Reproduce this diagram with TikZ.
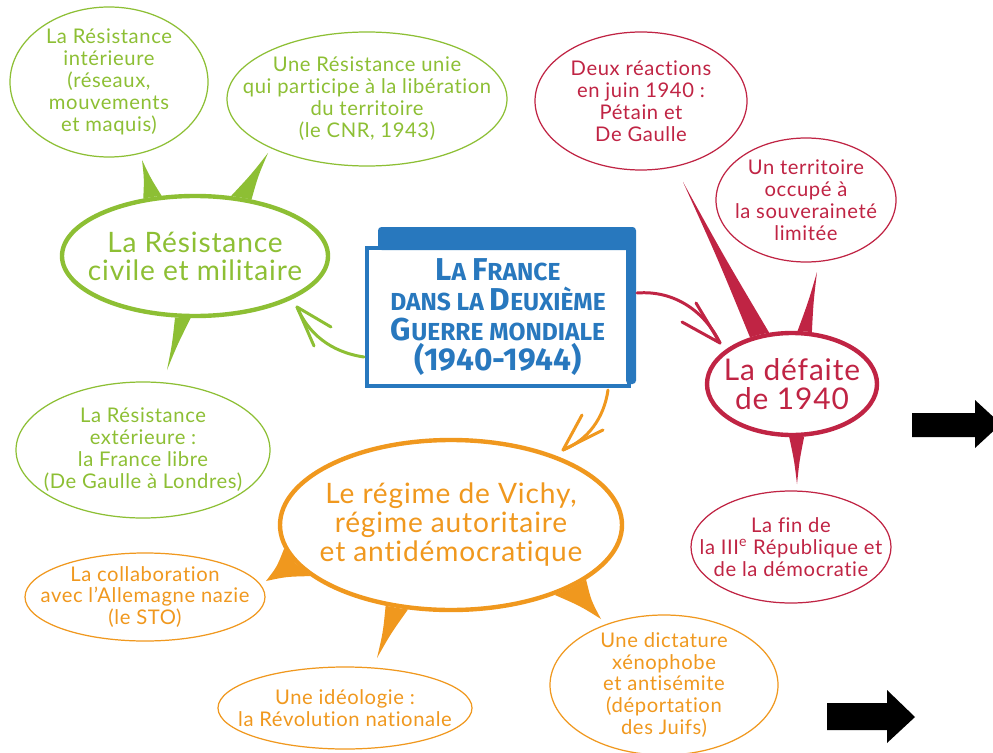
\documentclass[tikz,border=0pt]{standalone}
\usepackage{fontspec}
\setmainfont{Lato}[LetterSpace=3,Ligatures=NoCommon]
\newfontfamily\titlefont{Fira Sans}
\usetikzlibrary{shapes.geometric,calc}
\definecolor{cgreen}{RGB}{141,191,52}
\definecolor{cred}{RGB}{192,36,68}
\definecolor{corange}{RGB}{240,152,30}
\definecolor{cblue}{RGB}{40,120,190}
\newcommand{\tbig}[1]{{\fontsize{18}{17}\selectfont #1}}
% spike: colour, node, angle1, angle2, tip
\newcommand{\spike}[5]{%
  \path (#2.#3) coordinate (sA) (#2.#4) coordinate (sB) (#2.{(#3+#4)/2}) coordinate (sM);
  \coordinate (mA) at ($(sA)!0.5!(#5)$);
  \coordinate (mB) at ($(sB)!0.5!(#5)$);
  \coordinate (mM) at ($(sM)!0.5!(#5)$);
  \coordinate (cA) at ($(mA)!0.3!(mM)$);
  \coordinate (cB) at ($(mB)!0.3!(mM)$);
  \fill[#1] (sA) .. controls (cA) .. (#5) .. controls (cB) .. (sB) -- (sM) -- cycle;}
\begin{document}
\begin{tikzpicture}[x=0.02cm,y=-0.02cm,
  sz/.style 2 args={minimum width=#1*0.02cm, minimum height=#2*0.02cm},
  bub/.style={ellipse, inner sep=-40pt, align=center, font={\fontsize{11.5}{12.5}\selectfont}, line width=0.7pt},
  mainbub/.style={ellipse, inner sep=-40pt, align=center, line width=2.5pt},
  arr/.style={line width=1.7pt, line cap=round, line join=round}]
\useasboundingbox (0,0) rectangle (993,753);
\clip (0,0) rectangle (993,753);
\fill[white] (0,0) rectangle (993,753);

% central box
\node[rectangle, draw=cblue, line width=2.8pt, sz={262}{138}, align=center, text=cblue,
  font={\titlefont\bfseries\fontsize{14}{17}\selectfont}] (main) at (498,317)
  {\tbig{L}A \tbig{F}RANCE\\DANS LA \tbig{D}EUXIÈME\\\tbig{G}UERRE MONDIALE\\\tbig{(1940-1944)}};
\fill[cblue, rounded corners=2pt] (378,227) rectangle (635,250);
\fill[cblue, rounded corners=2pt] (626,227) rectangle (636,384);

% green
\node[bub, draw=cgreen, text=cgreen, sz={198}{150}] (ri) at (109,82)
  {La Résistance\\intérieure\\(réseaux,\\mouvements\\et maquis)};
\node[bub, draw=cgreen, text=cgreen, sz={280}{134}] (ru) at (367,99)
  {Une Résistance unie\\qui participe à la libération\\du territoire\\(le CNR, 1943)};
\node[mainbub, draw=cgreen, text=cgreen, sz={266}{120}, font={\fontsize{16}{16}\selectfont}] (rc) at (195,256)
  {La Résistance\\civile et militaire};
\node[bub, draw=cgreen, text=cgreen, sz={254}{136}] (re) at (143,450)
  {La Résistance\\extérieure :\\la France libre\\(De Gaulle à Londres)};
\coordinate (gt1) at (142,160);
\coordinate (gt2) at (268,153);
\coordinate (gt3) at (167,370);
\spike{cgreen}{rc}{119}{132}{gt1}
\spike{cgreen}{rc}{45}{59}{gt2}
\spike{cgreen}{rc}{252}{266}{gt3}

% red
\node[bub, draw=cred, text=cred, sz={212}{138}] (dr) at (641,101)
  {Deux réactions\\en juin 1940 :\\Pétain et\\De Gaulle};
\node[bub, draw=cred, text=cred, sz={180}{124}] (ut) at (806,200)
  {Un territoire\\occupé à\\la souveraineté\\limitée};
\node[mainbub, draw=cred, text=cred, sz={170}{102}, font={\fontsize{17}{16.5}\selectfont}] (df) at (792,384)
  {La défaite\\de 1940};
\node[bub, draw=cred, text=cred, sz={200}{112}] (fr) at (791,547)
  {La fin de\\la III\textsuperscript{e} République et\\de la démocratie};
\coordinate (rt1) at (683,182);
\coordinate (rt2) at (817,272);
\coordinate (rt3) at (797,484);
\spike{cred}{df}{114}{132}{rt1}
\spike{cred}{df}{69}{84}{rt2}
\spike{cred}{df}{267}{283}{rt3}

% orange
\node[mainbub, draw=corange, text=corange, sz={342}{170}, font={\fontsize{16}{16.5}\selectfont}] (vi) at (451,525)
  {Le régime de Vichy,\\régime autoritaire\\et antidémocratique};
\node[bub, draw=corange, text=corange, sz={240}{88}] (co) at (145,597)
  {La collaboration\\avec l’Allemagne nazie\\(le STO)};
\node[bub, draw=corange, text=corange, sz={254}{82}] (id) at (345,708)
  {Une idéologie :\\la Révolution nationale};
\node[bub, draw=corange, text=corange, sz={228}{140}] (dc) at (664,685)
  {Une dictature\\xénophobe\\et antisémite\\(déportation\\des Juifs)};
\coordinate (ot1) at (266,581);
\coordinate (ot2) at (377,658);
\coordinate (ot3) at (601,619);
\spike{corange}{vi}{188}{200}{ot1}
\spike{corange}{vi}{231}{243}{ot2}
\spike{corange}{vi}{326}{338}{ot3}

% hand-drawn arrows
\coordinate (gs) at (364,357);
\coordinate (gtip) at (297,307);
\coordinate (gb1) at (331,327);
\coordinate (gb2) at (314,346);
\draw[arr, cgreen] (gs) .. controls (330,352) and (308,333) .. (gtip);
\draw[arr, cgreen] (gb1) -- (gtip) -- (gb2);

\coordinate (rs) at (637,293);
\coordinate (rtip) at (720,343);
\coordinate (rb1) at (696,303);
\coordinate (rb2) at (682,322);
\draw[arr, cred] (rs) .. controls (675,290) and (705,312) .. (rtip);
\draw[arr, cred] (rb1) -- (rtip) -- (rb2);

\coordinate (os) at (608,390);
\coordinate (otip) at (563,450);
\coordinate (ob1) at (582,415);
\coordinate (ob2) at (603,430);
\draw[arr, corange] (os) .. controls (604,418) and (588,440) .. (otip);
\draw[arr, corange] (ob1) -- (otip) -- (ob2);

% black arrows
\fill[black] (912,413) -- (975,413) -- (975,400) -- (1001,424) -- (975,448) -- (975,437) -- (912,437) -- cycle;
\fill[black] (827,703) -- (887,703) -- (887,690) -- (915,717) -- (887,743) -- (887,730) -- (827,730) -- cycle;
\end{tikzpicture}
\end{document}
